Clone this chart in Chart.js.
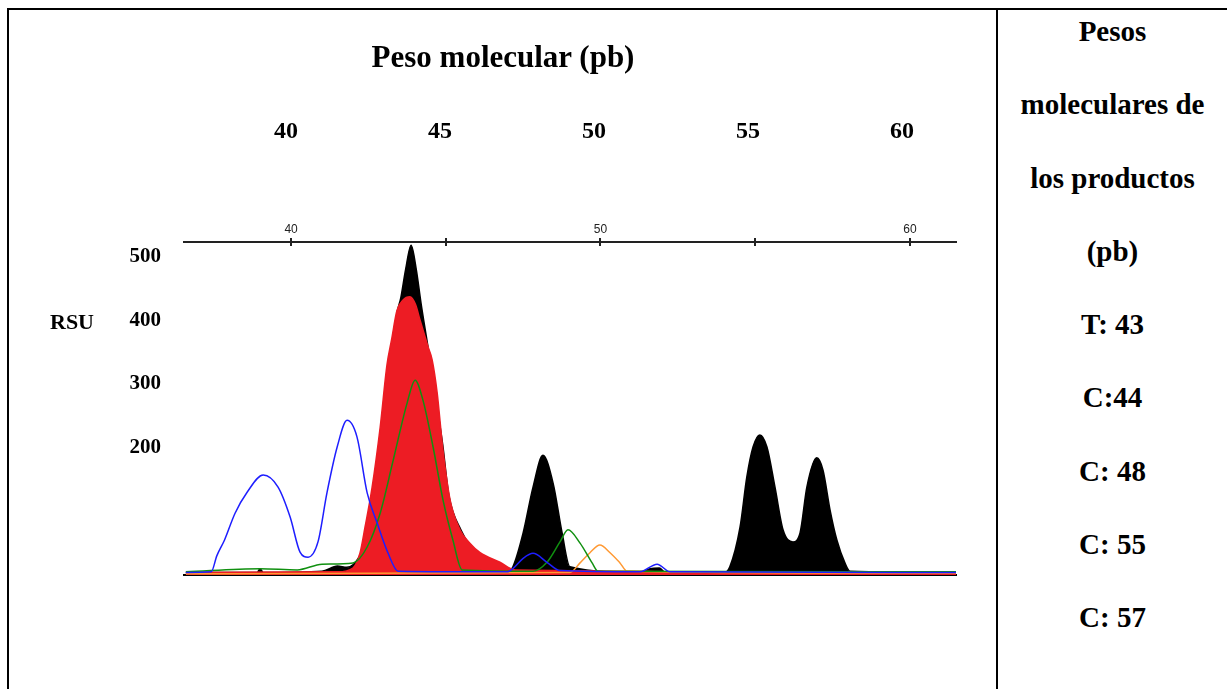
<!DOCTYPE html>
<html>
<head>
<meta charset="utf-8">
<script src="https://cdn.jsdelivr.net/npm/chart.js@4.4.1/dist/chart.umd.min.js"></script>
<style>
  html, body { margin: 0; padding: 0; background: #fff; }
  body { width: 1227px; height: 689px; position: relative; overflow: hidden;
         font-family: "Liberation Serif", "Times New Roman", serif; font-weight: bold; color: #000; }
  #wrap { position: absolute; left: 0; top: 0; width: 997px; height: 689px; }
  .rule { position: absolute; background: #000; }
  #title { position: absolute; left: 253px; width: 500px; top: 41px; text-align: center;
           font-size: 31px; line-height: 32px; }
  #rsu { position: absolute; left: 50px; top: 309px; font-size: 22px; line-height: 26px; }
  #side { position: absolute; left: 998px; width: 229px; top: -5px; text-align: center;
          font-size: 29px; line-height: 73.3px; }
</style>
</head>
<body>
<div id="wrap"><canvas id="trace" width="997" height="689"></canvas></div>
<div id="title">Peso molecular (pb)</div>
<div id="rsu">RSU</div>
<div id="side">Pesos<br>moleculares de<br>los productos<br>(pb)<br>T: 43<br>C:44<br>C: 48<br>C: 55<br>C: 57</div>
<div class="rule" style="left:7px;top:8px;width:1220px;height:2px"></div>
<div class="rule" style="left:7px;top:8px;width:2px;height:681px"></div>
<div class="rule" style="left:996px;top:8px;width:2px;height:681px"></div>
<script>
// tick labels
const bpTicks = [40, 45, 50, 55, 60];
const rsuTicks = [200, 300, 400, 500];

// traces (x in pb, y in RSU)
const blackX = [36.6, 38.9, 39.0, 39.1, 41.0, 41.5, 41.8, 42.0, 42.3, 42.6, 42.9, 43.2, 43.4, 43.55, 43.7, 43.88, 44.05, 44.2, 44.37, 44.53, 44.7, 44.9, 45.1, 45.5, 45.8, 46.1, 46.6, 47.0,
                47.17, 47.5, 47.82, 48.14, 48.47, 48.76, 49.01, 51.3, 51.6, 51.9, 52.1, 54.0,
                54.18, 54.51, 54.73, 54.93, 55.15, 55.38, 55.64, 55.9, 56.22, 56.45, 56.67, 56.99, 57.19, 57.42, 57.64, 57.9, 58.06, 61.5];
const blackY = [4, 4, 10, 4, 6, 14, 12, 16, 40, 110, 200, 300, 405, 436, 479, 518, 479, 427, 375, 327, 270, 205, 125, 70, 45, 30, 12, 5,
                13, 66, 138, 188, 144, 66, 13, 4, 10, 11, 4, 4,
                13, 75, 154, 201, 220, 201, 138, 71, 52, 66, 138, 184, 165, 102, 55, 19, 6, 4];

const redX = [36.6, 41.5, 42.0, 42.23, 42.39, 42.62, 42.88, 43.1, 43.25, 43.42, 43.62, 43.84, 44.02, 44.17, 44.43, 44.56, 44.72, 44.91, 45.14, 45.46, 45.78, 46.11, 46.75, 47.24, 61.5];
const redY = [4, 5, 11, 35, 75, 138, 232, 330, 370, 415, 432, 437, 425, 400, 358, 338, 287, 196, 118, 71, 50, 35, 20, 8, 4];

const greenX = [36.6, 39.0, 40.2, 41.0, 42.0, 42.46, 42.88, 43.3, 43.75, 44.01, 44.26, 44.59, 44.91, 45.23, 45.53, 47.82, 48.27, 48.69, 48.95, 49.34, 49.73, 49.92, 61.5];
const greenY = [5, 10, 8, 17, 19, 44, 97, 180, 270, 306, 275, 201, 118, 55, 8, 6, 20, 52, 71, 50, 19, 6, 5];

const blueX = [36.6, 37.42, 37.6, 37.85, 38.19, 38.58, 39.1, 39.58, 39.97, 40.29, 40.55, 40.87, 41.16, 41.49, 41.81, 42.13, 42.46, 42.78, 43.13, 43.46,
               46.98, 47.17, 47.5, 47.82, 48.27, 48.69, 51.28, 51.83, 52.25, 61.5];
const blueY = [4, 5, 30, 55, 97, 130, 157, 138, 91, 36, 28, 52, 129, 201, 243, 217, 129, 82, 35, 6,
               5, 10, 26, 34, 20, 7, 5, 17, 5, 4];

const orangeX = [36.6, 49.01, 49.34, 49.66, 49.98, 50.31, 50.63, 50.86, 61.5];
const orangeY = [2, 4, 19, 35, 47, 35, 19, 6, 3];

const pts = (xs, ys) => xs.map((x, i) => ({ x: x, y: ys[i] }));

// short tick marks below the top axis line
const tickBelow = {
  id: 'tickBelow',
  afterDraw(chart) {
    const s = chart.scales.xTop, ctx = chart.ctx, top = chart.chartArea.top;
    ctx.save();
    ctx.strokeStyle = '#222';
    ctx.lineWidth = 2;
    bpTicks.forEach(v => {
      const px = Math.round(s.getPixelForValue(v));
      ctx.beginPath();
      ctx.moveTo(px, top);
      ctx.lineTo(px, top + 4);
      ctx.stroke();
    });
    ctx.restore();
  }
};

const line = (label, xs, ys, color, order, fill) => ({
  label: label,
  data: pts(xs, ys),
  borderColor: color,
  backgroundColor: color,
  borderWidth: 1.5,
  pointRadius: 0,
  fill: fill ? 'origin' : false,
  cubicInterpolationMode: 'monotone',
  order: order,
  xAxisID: 'x',
  yAxisID: 'y'
});

new Chart(document.getElementById('trace'), {
  type: 'line',
  data: {
    datasets: [
      line('negro', blackX, blackY, '#000000', 5, true),
      line('rojo', redX, redY, '#ed1c24', 4, true),
      line('naranja', orangeX, orangeY, '#ff9933', 3, false),
      line('verde', greenX, greenY, '#109010', 2, false),
      line('azul', blueX, blueY, '#1e1eff', 1, false)
    ]
  },
  options: {
    responsive: false,
    animation: false,
    layout: { padding: { top: 100, right: 41, left: 0, bottom: 0 } },
    plugins: { legend: { display: false }, tooltip: { enabled: false } },
    scales: {
      x: {
        type: 'linear', position: 'bottom', min: 36.54, max: 61.49,
        grid: { display: false, drawTicks: false },
        ticks: { display: false },
        border: { display: true, color: '#000', width: 2 },
        afterFit: s => { s.height = 114; }
      },
      xTop: {
        type: 'linear', position: 'top', min: 36.54, max: 61.49, weight: 5,
        afterBuildTicks: s => { s.ticks = bpTicks.map(v => ({ value: v })); },
        ticks: {
          autoSkip: false, maxRotation: 0, padding: 1, color: '#222',
          font: { family: '"Liberation Sans", Arial, sans-serif', size: 12 },
          callback: v => (v % 10 === 0 ? v : '')
        },
        grid: { display: true, drawOnChartArea: false, drawTicks: true, tickLength: 4, color: '#222', lineWidth: 2 },
        border: { display: true, color: '#222', width: 2 },
        afterFit: s => { s.height = 96; }
      },
      xBold: {
        type: 'linear', position: 'top', min: 36.69, max: 61.75, weight: 10,
        afterBuildTicks: s => { s.ticks = bpTicks.map(v => ({ value: v })); },
        ticks: {
          autoSkip: false, maxRotation: 0, padding: 0, color: '#000',
          font: { family: '"Liberation Serif", "Times New Roman", serif', size: 24, weight: 'bold' }
        },
        grid: { display: false, drawTicks: false },
        border: { display: false },
        afterFit: s => { s.height = 46; }
      },
      y: {
        type: 'linear', position: 'left', min: 0, max: 523,
        afterBuildTicks: s => { s.ticks = rsuTicks.map(v => ({ value: v })); },
        ticks: {
          padding: 23, color: '#000',
          font: { family: '"Liberation Serif", "Times New Roman", serif', size: 21, weight: 'bold' }
        },
        grid: { display: false, drawTicks: false },
        border: { display: false },
        afterFit: s => { s.width = 184; }
      }
    }
  },
  plugins: [tickBelow]
});
</script>
</body>
</html>
